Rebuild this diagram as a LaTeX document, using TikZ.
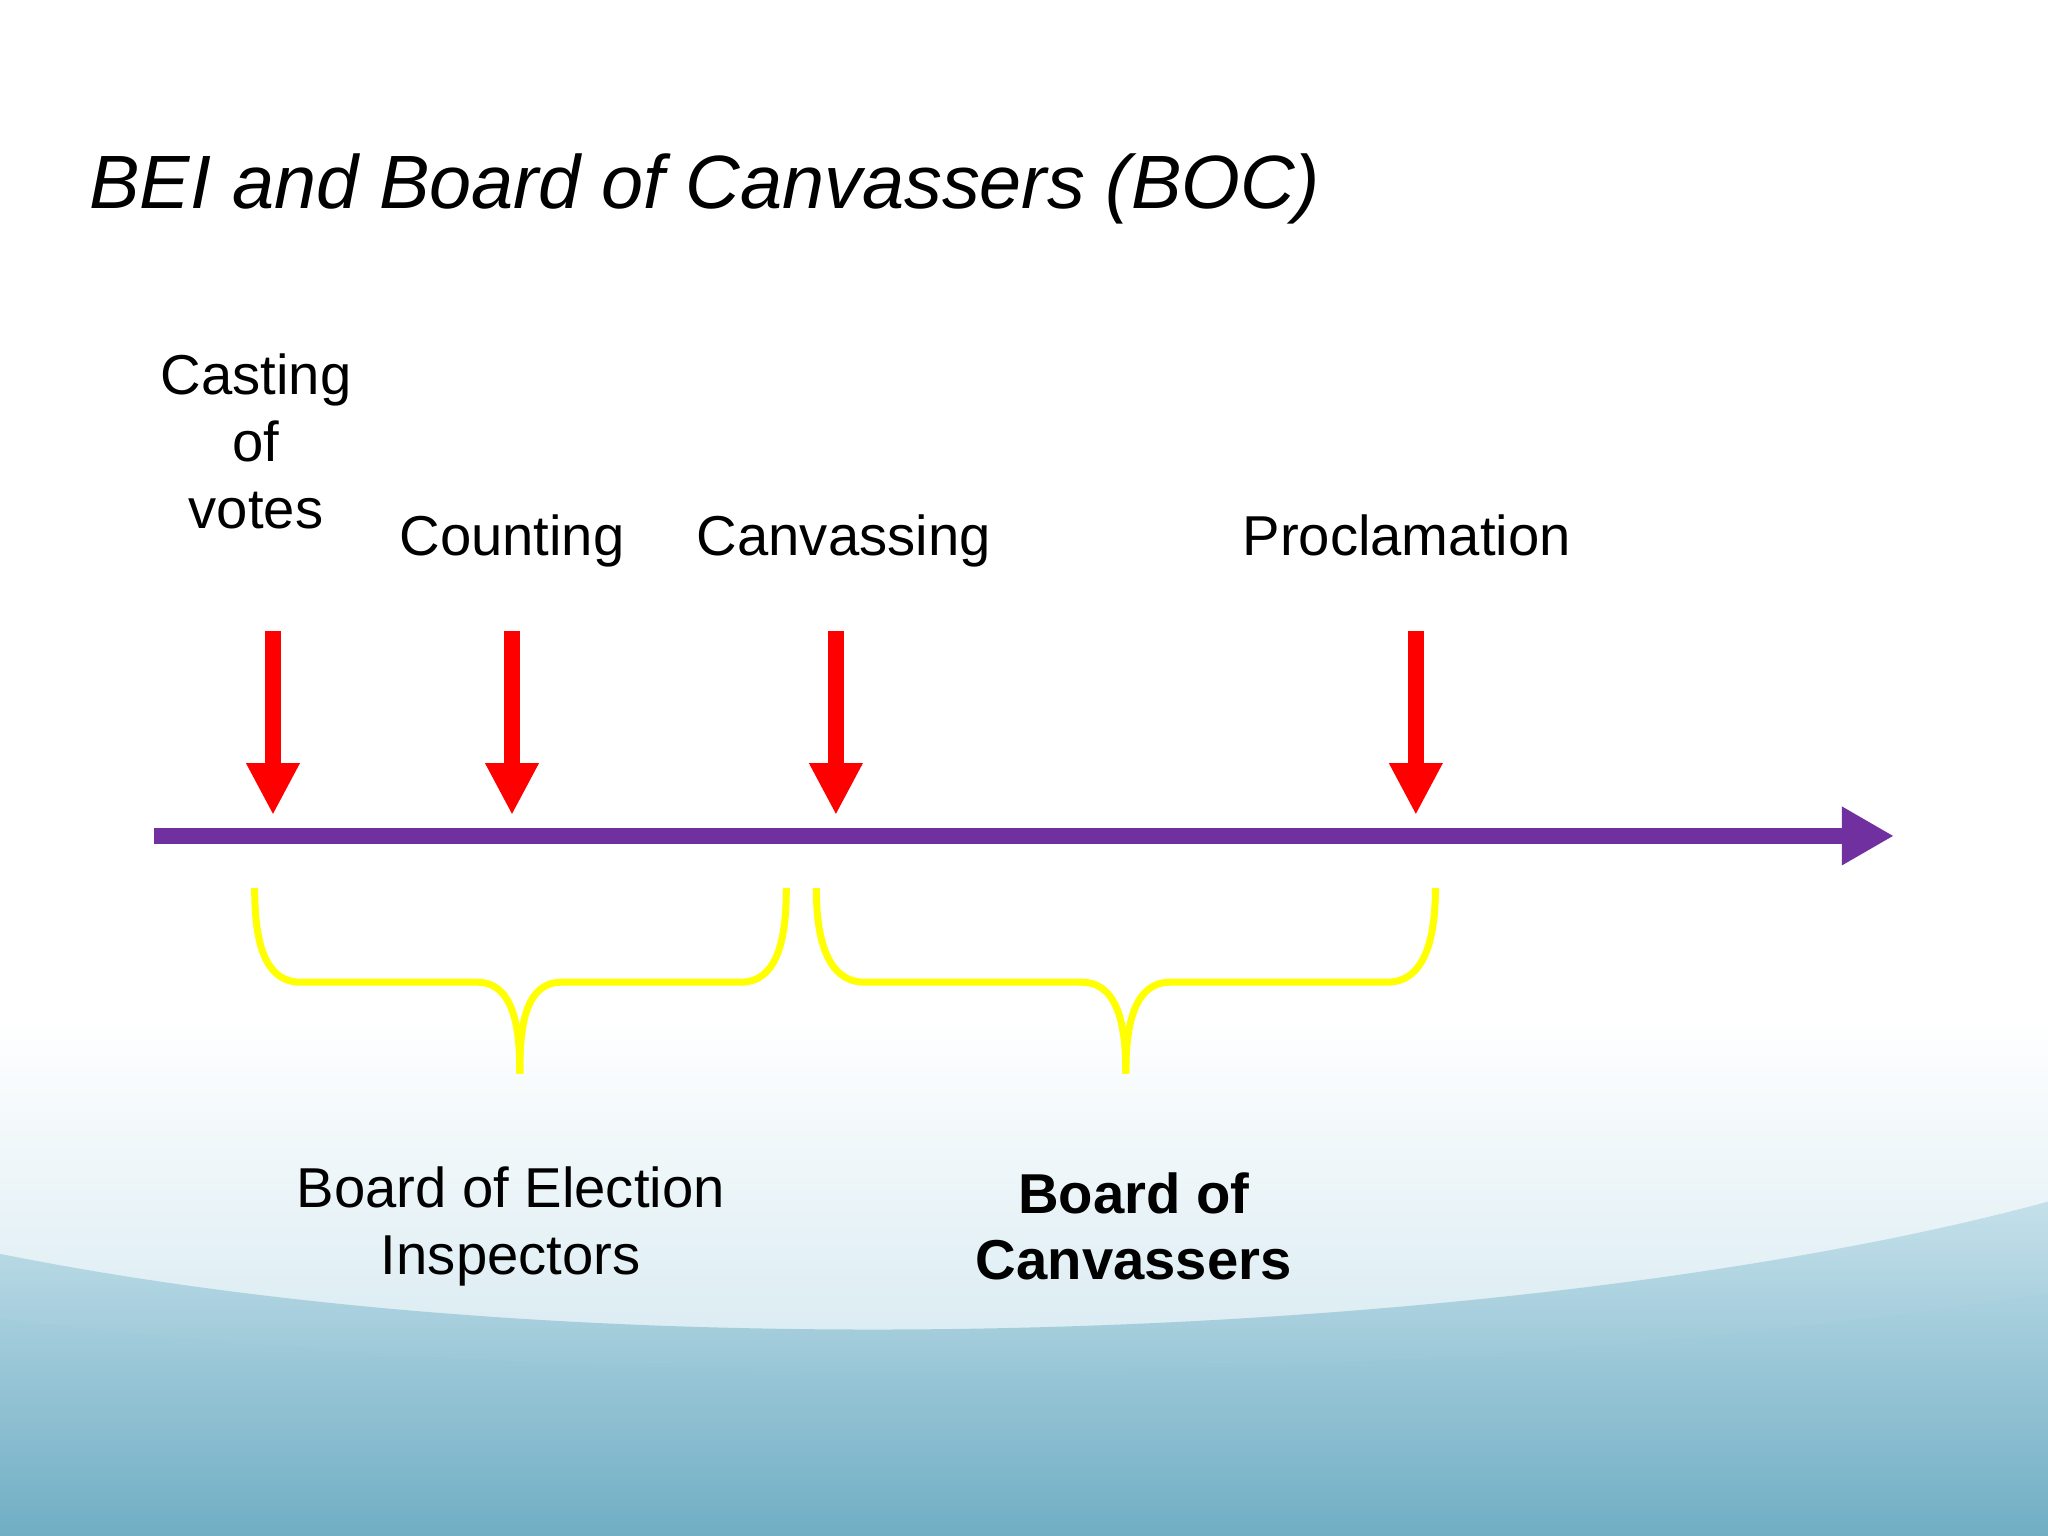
\documentclass[tikz,border=0pt]{standalone}
\usepackage{fontspec}
\setmainfont{Liberation Sans}
\usetikzlibrary{arrows.meta}
\definecolor{purp}{RGB}{112,48,160}
\definecolor{teal1}{RGB}{112,174,196}
\definecolor{teal2}{RGB}{196,224,234}
\begin{document}
\begin{tikzpicture}[x=0.01306cm,y=-0.01306cm,
  lbl/.style={font=\fontsize{16}{19}\selectfont,align=center,inner sep=0},
  red/.style={draw={rgb,255:red,255;green,0;blue,0},line width=0.157cm,-{Triangle[width=0.5cm,length=0.52cm]}},
  brace/.style={draw={rgb,255:red,255;green,255;blue,0},line width=0.07cm}]
\useasboundingbox (0,0) rectangle (1568,1176);
\fill[white] (0,0) rectangle (1568,1176);
\shade[top color=white,bottom color=teal2] (0,780) rectangle (1568,1176);
\shade[top color=teal2,bottom color=teal1] (0,1176) -- (0,960) .. controls (500,1060) and (1200,1020) .. (1568,920) -- (1568,1176) -- cycle;
\shade[top color=teal2!70!teal1,bottom color=teal1] (0,1176) -- (0,1010) .. controls (600,1080) and (1200,1050) .. (1568,990) -- (1568,1176) -- cycle;
\node[anchor=base west,inner sep=0,font=\fontsize{21.5}{26}\selectfont\itshape] (title) at (68,160) {BEI and Board of Canvassers (BOC)};
\coordinate (ls) at (118,640); \coordinate (le) at (1450,640);
\draw[purp,line width=0.157cm,-{Triangle[width=0.55cm,length=0.52cm]}] (ls) -- (le);
\foreach \n/\x in {a/209,b/392,c/640,d/1084}{
  \coordinate (\n1) at (\x,483); \coordinate (\n2) at (\x,624);
  \draw[red] (\n1) -- (\n2);}
\node[lbl] (cast) at (196,338) {Casting\\of\\votes};
\node[lbl,anchor=base] (count) at (392,425) {Counting};
\node[lbl,anchor=base] (canv) at (646,425) {Canvassing};
\node[lbl,anchor=base] (proc) at (1077,425) {Proclamation};
\draw[brace] (195,680) to[out=-90,in=180] (230,752) -- (365,752) to[out=0,in=90] (398,822);
\draw[brace] (602,680) to[out=-90,in=0] (567,752) -- (430,752) to[out=180,in=90] (398,822);
\draw[brace] (625,680) to[out=-90,in=180] (662,752) -- (828,752) to[out=0,in=90] (862,822);
\draw[brace] (1099,680) to[out=-90,in=0] (1062,752) -- (896,752) to[out=180,in=90] (862,822);
\node[lbl] (bei) at (391,939) {Board of Election\\Inspectors};
\node[lbl,font=\fontsize{16}{19}\selectfont\bfseries] (boc) at (868,939) {Board of\\Canvassers};
\end{tikzpicture}
\end{document}
